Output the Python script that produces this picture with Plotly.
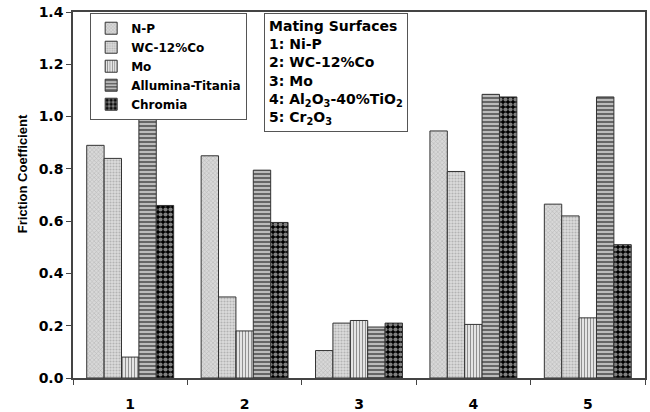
import plotly.graph_objects as go

categories = ["1", "2", "3", "4", "5"]
series_names = ["N-P", "WC-12%Co", "Mo", "Allumina-Titania", "Chromia"]
np_vals = [0.89, 0.85, 0.105, 0.945, 0.665]
wc_vals = [0.84, 0.31, 0.21, 0.79, 0.62]
mo_vals = [0.08, 0.18, 0.22, 0.205, 0.23]
at_vals = [0.99, 0.795, 0.195, 1.085, 1.075]
cr_vals = [0.66, 0.595, 0.21, 1.075, 0.51]
y_ticks = [0.0, 0.2, 0.4, 0.6, 0.8, 1.0, 1.2, 1.4]
mating_lines = ["Mating Surfaces", "1: Ni-P", "2: WC-12%Co", "3: Mo",
                "4: Al<sub>2</sub>O<sub>3</sub>-40%TiO<sub>2</sub>",
                "5: Cr<sub>2</sub>O<sub>3</sub>"]

FONT = "DejaVu Sans, sans-serif"
FONT_NARROW = "Liberation Sans, Arial, sans-serif"

styles = [
    dict(color="#d8d8d8", pattern=dict(shape="x", size=3, solidity=0.3, fgcolor="#8a8a8a")),
    dict(color="#dcdcdc", pattern=dict(shape=".", size=3, solidity=0.4, fgcolor="#8a8a8a")),
    dict(color="white", pattern=dict(shape="|", size=3, solidity=0.5, fgcolor="#222222")),
    dict(color="#bbbbbb", pattern=dict(shape="-", size=4, solidity=0.5, fgcolor="#111111")),
    dict(color="black", pattern=dict(shape=".", size=5, solidity=0.55, fgcolor="white")),
]
all_vals = [np_vals, wc_vals, mo_vals, at_vals, cr_vals]

fig = go.Figure()
for name, vals, st in zip(series_names, all_vals, styles):
    fig.add_trace(go.Bar(
        x=categories, y=vals, name=name,
        marker=dict(color=st["color"], pattern=st["pattern"],
                    line=dict(color="#333333", width=1)),
    ))

fig.update_layout(
    width=650, height=412,
    margin=dict(l=73, r=5, t=12, b=34, autoexpand=False),
    paper_bgcolor="white", plot_bgcolor="white",
    barmode="group", bargap=0.24, bargroupgap=0,
    font=dict(family=FONT, size=13, color="black", weight="bold"),
    legend=dict(x=0.03, y=0.998, xanchor="left", yanchor="top",
                bgcolor="white", bordercolor="#555555", borderwidth=1,
                font=dict(family=FONT, size=12, color="black", weight="bold"),
                itemwidth=30, tracegroupgap=0),
    showlegend=True,
)
fig.update_xaxes(
    type="category", tickson="boundaries", ticks="outside", ticklen=5,
    showline=True, linecolor="#444444", linewidth=1.5, mirror=True,
    tickfont=dict(family=FONT, size=14, weight="bold"), showgrid=False,
    ticklabelstandoff=12, automargin=False,
)
fig.update_yaxes(
    range=[0, 1.4], tickvals=y_ticks, tickformat=".1f",
    ticks="outside", ticklen=5, showline=True, linecolor="#444444",
    linewidth=1.5, mirror=True, showgrid=False, zeroline=False,
    tickfont=dict(family=FONT, size=14, weight="bold"), automargin=False,
)
fig.add_annotation(
    xref="paper", yref="paper", x=-0.089, y=0.557, xanchor="center", yanchor="middle",
    text="Friction Coefficient", textangle=-90, showarrow=False,
    font=dict(family=FONT_NARROW, size=13, color="black", weight="bold"),
)
fig.add_annotation(
    xref="paper", yref="paper", x=0.334, y=0.998, xanchor="left", yanchor="top",
    text="<br>".join(mating_lines), align="left", showarrow=False,
    bgcolor="white", bordercolor="#555555", borderwidth=1, borderpad=4,
    font=dict(family=FONT, size=14, color="black", weight="bold"),
)
fig.write_html("out.html")
